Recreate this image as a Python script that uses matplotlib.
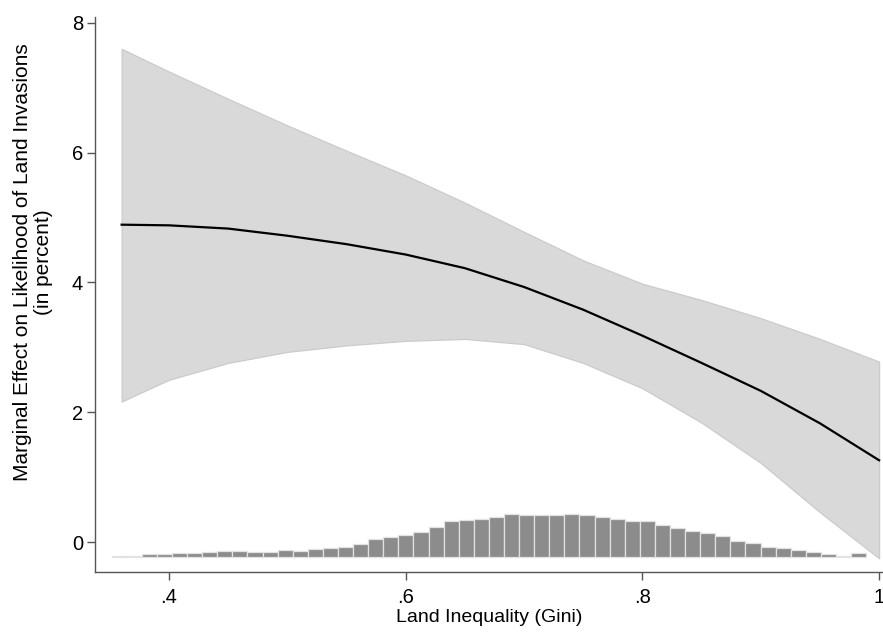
import matplotlib
matplotlib.use("Agg")
import matplotlib.pyplot as plt
import numpy as np

# ---- data ----
gini = [0.36, 0.40, 0.45, 0.50, 0.55, 0.60, 0.65, 0.70, 0.75, 0.80, 0.85, 0.90, 0.95, 1.00]
effect = [4.89, 4.88, 4.83, 4.72, 4.59, 4.43, 4.22, 3.93, 3.58, 3.18, 2.76, 2.33, 1.83, 1.26]
upper = [7.60, 7.25, 6.83, 6.42, 6.03, 5.65, 5.23, 4.78, 4.34, 3.98, 3.73, 3.45, 3.13, 2.78]
lower = [2.165, 2.50, 2.76, 2.93, 3.03, 3.10, 3.13, 3.05, 2.76, 2.37, 1.84, 1.22, 0.46, -0.25]

hist_start = 0.3516
hist_binwidth = 0.01275
hist_base = -0.225
hist_height = [0.005, 0.005, 0.036, 0.041, 0.057, 0.057, 0.072, 0.087, 0.082, 0.077,
               0.077, 0.098, 0.093, 0.113, 0.129, 0.154, 0.200, 0.267, 0.298, 0.329,
               0.380, 0.452, 0.550, 0.565, 0.586, 0.607, 0.658, 0.637, 0.648, 0.648,
               0.658, 0.637, 0.607, 0.576, 0.555, 0.555, 0.488, 0.442, 0.396, 0.365,
               0.314, 0.247, 0.211, 0.154, 0.129, 0.098, 0.067, 0.036, 0.015, 0.057]

xticks = [0.4, 0.6, 0.8, 1.0]
xticklabels = [".4", ".6", ".8", "1"]
yticks = [0, 2, 4, 6, 8]
yticklabels = ["0", "2", "4", "6", "8"]

# ---- figure ----
plt.rcParams['font.family'] = ['Liberation Sans', 'DejaVu Sans']
fig = plt.figure(figsize=(8.83, 6.39), dpi=100)
ax = fig.add_axes([95 / 883, 1 - 572.3 / 639, 788 / 883, (572.3 - 17) / 639])

ax.fill_between(gini, lower, upper, facecolor='#d9d9d9', edgecolor='#cbcbcb',
                linewidth=0.9, zorder=1)
ax.plot(gini, effect, color='black', linewidth=1.6, zorder=3)

lefts = hist_start + hist_binwidth * np.arange(len(hist_height))
ax.bar(lefts, hist_height, width=hist_binwidth, bottom=hist_base, align='edge',
       color='#8c8c8c', edgecolor='#e2e2e2', linewidth=0.9, zorder=2)

ax.set_xlim(0.3375, 1.0033)
ax.set_ylim(-0.466, 8.09)
ax.set_xticks(xticks)
ax.set_xticklabels(xticklabels)
ax.set_yticks(yticks)
ax.set_yticklabels(yticklabels)

for s in ['top', 'right']:
    ax.spines[s].set_visible(False)
for s in ['left', 'bottom']:
    ax.spines[s].set_color('#555555')
    ax.spines[s].set_linewidth(1.0)
ax.tick_params(axis='both', colors='#555555', width=1.0, length=5.5,
               labelsize=14.5, labelcolor='black')
ax.tick_params(axis='x', pad=6)
ax.tick_params(axis='y', pad=3)

ax.set_xlabel("Land Inequality (Gini)", fontsize=14, labelpad=1)
fig.text(33 / 883, 1 - 262 / 639,
         "Marginal Effect on Likelihood of Land Invasions\n(in percent)",
         rotation=90, ha='center', va='center', multialignment='center',
         fontsize=15, linespacing=1.12)

fig.savefig("out.png", dpi=100, facecolor='white')
